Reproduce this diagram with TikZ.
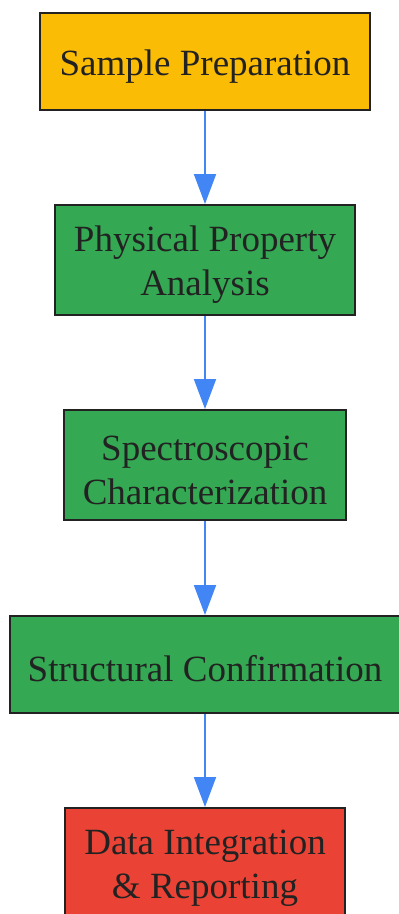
\documentclass[tikz,border=0pt]{standalone}
\usepackage{fontspec}
\setmainfont{Liberation Serif}
\usetikzlibrary{arrows.meta}
\definecolor{gyellow}{HTML}{FBBC05}
\definecolor{ggreen}{HTML}{34A853}
\definecolor{gred}{HTML}{EA4335}
\definecolor{gblue}{HTML}{4285F4}
\definecolor{ink}{HTML}{222222}
\newcommand{\lift}{\rule{0pt}{35pt}}
\begin{document}
\begin{tikzpicture}[x=1pt,y=-1pt,
  box/.style={draw=ink,line width=2pt,text=ink,align=center,inner sep=0pt,
    font=\fontsize{37}{44}\selectfont},
  flow/.style={-{Triangle[length=30pt,width=22pt]},line width=2pt,draw=gblue}]
\useasboundingbox (0,0) rectangle (399,914);
\node[box,fill=gyellow,minimum width=330pt,minimum height=97pt] (prep) at (205,61.5) {\lift Sample Preparation};
\node[box,fill=ggreen,minimum width=300pt,minimum height=110pt] (phys) at (205,260) {\lift Physical Property\\Analysis};
\node[box,fill=ggreen,minimum width=282pt,minimum height=110pt] (spec) at (205,465) {\lift Spectroscopic\\Characterization};
\node[box,fill=ggreen,minimum width=390pt,minimum height=97pt] (struct) at (205,664.5) {\lift Structural Confirmation};
\node[box,fill=gred,minimum width=280pt,minimum height=110pt] (report) at (205,863) {\lift Data Integration\\\& Reporting};
\draw[flow] (prep) -- (phys);
\draw[flow] (phys) -- (spec);
\draw[flow] (spec) -- (struct);
\draw[flow] (struct) -- (report);
\end{tikzpicture}
\end{document}
